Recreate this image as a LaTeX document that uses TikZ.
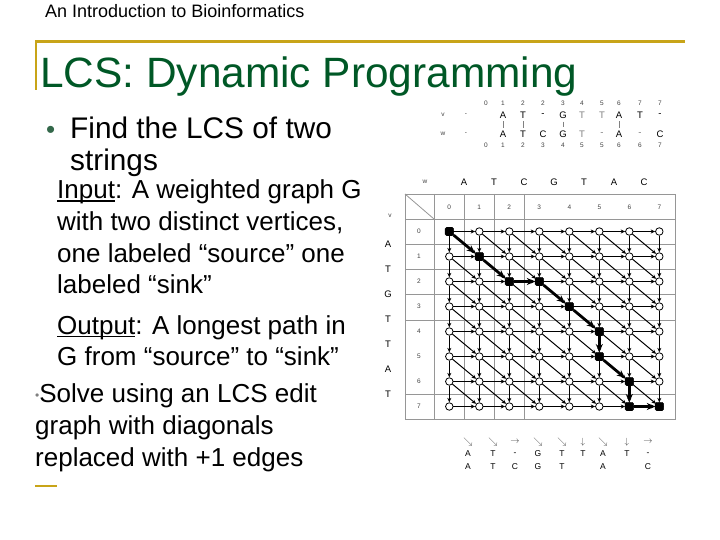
\documentclass[tikz,border=0pt]{standalone}
\usepackage{fontspec}
\setmainfont{Liberation Sans}
\usetikzlibrary{arrows.meta}
\definecolor{titlegreen}{RGB}{0,88,38}
\definecolor{bargold}{RGB}{200,164,24}
\definecolor{tabgray}{RGB}{150,150,150}
\newcommand\ulword[1]{\setbox0\hbox{#1}\rlap{\rule[-2.6pt]{\wd0}{1.1pt}}\box0}

\begin{document}
\begin{tikzpicture}[x=1pt,y=-1pt,
   vtx/.style={circle,draw,fill=white,inner sep=0pt,minimum size=7.5pt,line width=.8pt},
   hit/.style={rounded corners=1.5pt,draw,fill=black,inner sep=0pt,minimum size=8.5pt},
   tip/.style={-{Stealth[length=4.5pt,width=4pt]},line width=.9pt},
   best/.style={-{Stealth[length=8pt,width=7pt]},line width=2.8pt},
   body/.style={anchor=base west,inner sep=0pt,font=\fontsize{26}{26}\selectfont},
   seq/.style={inner sep=0pt,font=\fontsize{9.5}{10}\selectfont},
   num/.style={inner sep=0pt,text=black!75,font=\fontsize{6.5}{7}\selectfont}]
\useasboundingbox (0,0) rectangle (720,540);
%
% slide frame and texts
\draw[bargold,line width=3pt] (35,42) -- (685,42);
\draw[bargold,line width=2pt] (36,42) -- (36,90);
\draw[bargold,line width=1.5pt] (35,486) -- (57,486);
\node[anchor=base west,inner sep=0pt,font=\fontsize{18}{18}\selectfont] (head) at (45,18) {An Introduction to Bioinformatics};
\node[anchor=base west,inner sep=0pt,text=titlegreen,font=\fontsize{42.4}{43}\selectfont] (title) at (40,88) {LCS: Dynamic Programming};
\node[body,text=titlegreen!60!gray] (dot1) at (46,139) {•};
\node[body,font=\fontsize{29.8}{30}\selectfont] (find) at (70,139) {Find the LCS of two};
\node[body,font=\fontsize{29.8}{30}\selectfont] (strings) at (70,171) {strings};
\node[body] (in1) at (57,199) {\ulword{Input}: A weighted graph G};
\node[body] (in2) at (57,230) {with two distinct vertices,};
\node[body] (in3) at (57,262) {one labeled “source” one};
\node[body] (in4) at (57,293) {labeled “sink”};
\node[body] (out1) at (57,334) {\ulword{Output}: A longest path in};
\node[body] (out2) at (57,365) {G from “source” to “sink”};
\node[body] (solve1) at (35,402) {\raisebox{3pt}{\fontsize{12}{12}\selectfont\color{gray}•}Solve using an LCS edit};
\node[body] (solve2) at (35,434) {graph with diagonals};
\node[body] (solve3) at (35,466) {replaced with +1 edges};
%
% alignment above the grid
\node[num] (vlab) at (443,115) {v};
\node[num] (vbar) at (466,115) {-};
\node[num] (wlab) at (443,134) {w};
\node[num] (wbar) at (466,134) {-};
\foreach \x/\t [count=\k] in {486/0,503/1,523/2,543/2,563/3,582/4,602/5,619/6,640/7,660/7}
   \node[num] (vn\k) at (\x,103) {\t};
\foreach \x/\t/\c [count=\k] in {503/A/black,523/T/black,543/-/black,563/G/black,582/T/gray,602/T/gray,619/A/black,640/T/black,660/-/black}
   \node[seq,text=\c] (va\k) at (\x,115) {\t};
\foreach \x/\t/\c [count=\k] in {503/A/black,523/T/black,543/C/black,563/G/black,582/T/gray,602/-/gray,619/A/black,640/-/gray,660/C/black}
   \node[seq,text=\c] (wa\k) at (\x,134) {\t};
\foreach \x/\t [count=\k] in {486/0,503/1,523/2,543/3,563/4,582/5,602/5,619/6,640/6,660/7}
   \node[num] (wn\k) at (\x,145) {\t};
\foreach \k in {1,2,4,7}
   \draw[gray,line width=.6pt,shorten <=3pt,shorten >=3pt] (va\k) -- (wa\k);
%
% table
\draw[tabgray,line width=.8pt] (405,194) rectangle (675,419);
\foreach \y in {219,244,269,294,320,394} \draw[tabgray,line width=.8pt] (405,\y) -- (675,\y);
\foreach \x in {434,464,494,524} \draw[tabgray,line width=.8pt] (\x,194) -- (\x,419);
\draw[tabgray,line width=.8pt] (405,194) -- (434,219);
\node[num] (wtop) at (425,182) {w};
\node[num] (vleft) at (390,216) {v};
\foreach \t [count=\k] in {A,T,C,G,T,A,C}
   \node[seq] (cw\k) at ({434+30*\k},182) {\t};
\foreach \t [count=\k] in {A,T,G,T,T,A,T}
   \node[seq] (rv\k) at (388,{219.5+25*\k}) {\t};
\foreach \k in {0,...,7} {
   \node[num] (ci\k) at ({449.3+30*\k},207) {\k};
   \node[num] (ri\k) at (419,{231.5+25*\k}) {\k};
}
%
% edit graph
\foreach \i in {0,...,7}
   \foreach \j in {0,...,7}
      \node[vtx] (n\i\j) at ({449.3+30*\j},{231.5+25*\i}) {};
\foreach \i in {0,...,7}
   \foreach \j [count=\k] in {0,...,6}
      \draw[tip] (n\i\j) -- (n\i\k);
\foreach \i [count=\k] in {0,...,6}
   \foreach \j in {0,...,7}
      \draw[tip,line width=1.3pt] (n\i\j) -- (n\k\j);
\foreach \i [count=\k] in {0,...,6}
   \foreach \j [count=\l] in {0,...,6}
      \draw[tip,line width=1pt] (n\i\j) -- (n\k\l);
\foreach \p in {00,11,22,23,34,45,55,66,76,77}
   \node[hit] (b\p) at (n\p) {};
\foreach \a/\b in {00/11,11/22,22/23,23/34,34/45,45/55,55/66,66/76,76/77}
   \draw[best] (b\a) -- (b\b);
%
% alignment below the grid
\foreach \x/\t [count=\k] in {468/\searrow,493/\searrow,515/\rightarrow,538/\searrow,562/\searrow,583/\downarrow,603/\searrow,627/\downarrow,648/\rightarrow}
   \node[seq,text=black!70] (mv\k) at (\x,442) {$\t$};
\foreach \x/\t [count=\k] in {468/A,493/T,515/-,538/G,562/T,583/T,603/A,627/T,648/-}
   \node[seq,font=\fontsize{8.5}{9}\selectfont] (bv\k) at (\x,454) {\t};
\foreach \x/\t [count=\k] in {468/A,493/T,515/C,538/G,562/T,603/A,648/C}
   \node[seq,font=\fontsize{8.5}{9}\selectfont] (bw\k) at (\x,467) {\t};
\end{tikzpicture}
\end{document}
